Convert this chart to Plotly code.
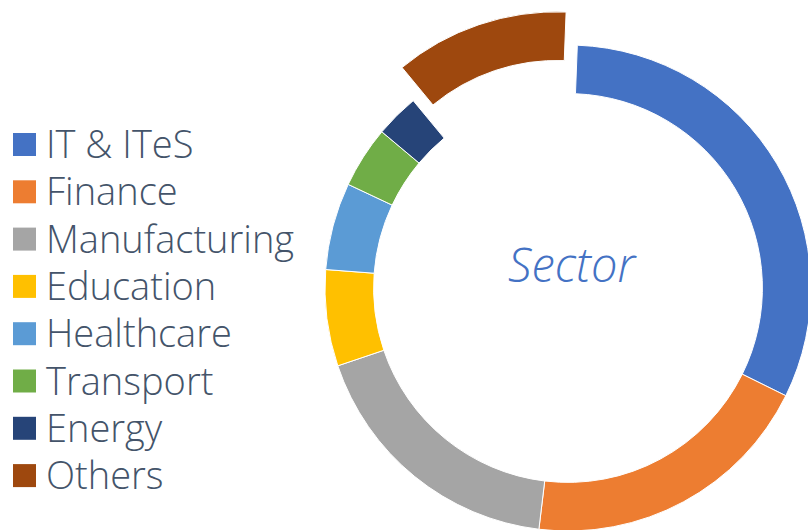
import plotly.graph_objects as go

# ---- data ----
sectors = ["IT & ITeS", "Finance", "Manufacturing", "Education",
           "Healthcare", "Transport", "Energy", "Others"]
shares = [31.7, 19.6, 17.9, 6.4, 5.8, 4.1, 2.9, 11.6]
colors = ["#4472C4", "#ED7D31", "#A5A5A5", "#FFC000",
          "#5B9BD5", "#70AD47", "#264478", "#9E480E"]
pulls = [0, 0, 0, 0, 0, 0, 0, 0.144]
center_title = "Sector"

# ---- canvas (figure slightly larger than the window so the ring is clipped like the original) ----
FW, FH = 850, 570

def px_x(x):
    return x / FW

def px_y(y):
    return 1 - y / FH

fig = go.Figure()
fig.add_trace(go.Pie(
    labels=sectors,
    values=shares,
    hole=0.80,
    sort=False,
    direction="clockwise",
    rotation=2.2,
    pull=pulls,
    marker=dict(colors=colors, line=dict(color="white", width=1)),
    textinfo="none",
    hoverinfo="label+percent",
    showlegend=False,
    domain=dict(x=[290 / FW, 846 / FW], y=[(FH - 566) / FH, (FH - 10) / FH]),
))

shapes = []
annotations = []
legend_font = dict(family="Open Sans", size=38, color="#44546A", weight=300)
for i, (name, col) in enumerate(zip(sectors, colors)):
    cy = 144.5 + 47.3 * i
    shapes.append(dict(type="rect", xref="paper", yref="paper",
                       x0=px_x(13), x1=px_x(36), y0=px_y(cy - 11.5), y1=px_y(cy + 11.5),
                       fillcolor=col, line=dict(width=0)))
    annotations.append(dict(text=name, xref="paper", yref="paper",
                            x=px_x(44), y=px_y(cy - 1.5), xanchor="left", yanchor="middle",
                            showarrow=False, font=legend_font))

annotations.append(dict(text="<i>" + center_title + "</i>", xref="paper", yref="paper",
                        x=px_x(572), y=px_y(264), xanchor="center", yanchor="middle",
                        showarrow=False,
                        font=dict(family="Open Sans", size=47, color="#4472C4", weight=300)))

fig.update_layout(
    width=FW, height=FH,
    margin=dict(l=0, r=0, t=0, b=0),
    paper_bgcolor="white",
    plot_bgcolor="white",
    shapes=shapes,
    annotations=annotations,
)

post = ("document.documentElement.style.overflow='hidden';"
        "document.body.style.margin='0';"
        "document.body.style.overflow='hidden';")
fig.write_html("out.html", post_script=post, config={"displayModeBar": False})
